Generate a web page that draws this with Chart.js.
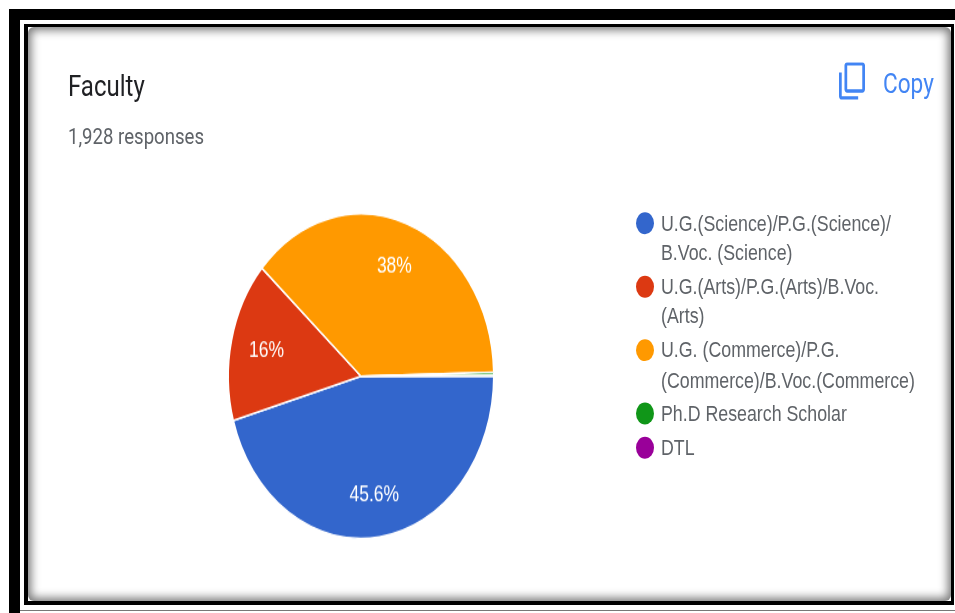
<!DOCTYPE html>
<html>
<head>
<meta charset="utf-8">
<title>Faculty</title>
<script src="https://cdn.jsdelivr.net/npm/chart.js@4"></script>
<style>
  html, body { margin: 0; padding: 0; background: #fff; overflow: hidden; }
  #page { position: relative; width: 955px; height: 613px; overflow: hidden; }
  /* picture frame */
  #outer { position: absolute; left: 9px; top: 9px; width: 960px; height: 620px; border-left: 11px solid #000; border-top: 11px solid #000; box-sizing: border-box; }
  #line { position: absolute; left: 20px; top: 610px; width: 935px; height: 1px; background: #777; }
  #inner { position: absolute; left: 24px; top: 24px; width: 930px; height: 581px; box-sizing: border-box; border: 4px solid #000; border-width: 3px 3px 4px 4px; }
  #shade { position: absolute; inset: 0; box-shadow: inset 0 0 10px 3px #777; border-radius: 6px; }
  /* everything inside is stretched in y, like the screenshot */
  #stage { position: absolute; left: 0; top: 0; width: 955px; height: 502.5px; transform-origin: 0 0; transform: scaleY(1.22); filter: blur(0.3px); }
  #chartBox { position: absolute; left: 0; top: 0; width: 955px; height: 502.5px; }
  .txt { position: absolute; white-space: nowrap; }
  #title { left: 68px; top: 56.5px; font: 400 24px Roboto, sans-serif; color: #202124; }
  #sub { left: 68px; top: 101px; font: 400 18.6px Roboto, sans-serif; color: #5f6368; }
  #copy { left: 883px; top: 55.2px; font: 400 22.6px Roboto, sans-serif; color: #4285f4; }
  #icon { position: absolute; left: 839px; top: 51.2px; width: 26px; height: 30.6px; }
  #legend { position: absolute; left: 636px; top: 170.6px; font: 400 17.8px "Liberation Sans", Arial, sans-serif; color: #5f6368; }
  .item { position: relative; padding-left: 25px; line-height: 24.6px; margin-bottom: 3px; white-space: nowrap; }
  .dot { position: absolute; left: 0; top: 3.3px; width: 18px; height: 18px; border-radius: 50%; }
</style>
</head>
<body>
<div id="page">
  <div id="outer"></div>
  <div id="line"></div>
  <div id="inner"><div id="shade"></div></div>
  <div id="stage">
    <div id="chartBox"><canvas id="pie"></canvas></div>
    <div class="txt" id="title">Faculty</div>
    <div class="txt" id="sub">1,928 responses</div>
    <svg id="icon" viewBox="2 1 19 22" preserveAspectRatio="none"><path fill="#4285f4" d="M16 1H4c-1.100 0-2 .9-2 2v14h2V3h12V1zm3 4H8c-1.100 0-2 .9-2 2v14c0 1.100.9 2 2 2h11c1.100 0 2-.9 2-2V7c0-1.100-.9-2-2-2zm0 16H8V7h11v14z" transform="matrix(1 0 0 -1 0 24)"/></svg>
    <div class="txt" id="copy">Copy</div>
    <div id="legend"></div>
  </div>
</div>
<script>
const categories = [
    ["U.G.(Science)/P.G.(Science)/", "B.Voc. (Science)"],
    ["U.G.(Arts)/P.G.(Arts)/B.Voc.", "(Arts)"],
    ["U.G. (Commerce)/P.G.", "(Commerce)/B.Voc.(Commerce)"],
    ["Ph.D Research Scholar"],
    ["DTL"]
];
const percents = [45.6, 16, 38, 0.3, 0.1];
const percentLabels = ["45.6%", "16%", "38%", "", ""];
const colors = ["#3366cc", "#dc3912", "#ff9900", "#109618", "#990099"];

// html legend, the google forms one wraps by hand
const legendEl = document.getElementById('legend');
categories.forEach((lines, i) => {
    const item = document.createElement('div');
    item.className = 'item';
    const dot = document.createElement('span');
    dot.className = 'dot';
    dot.style.background = colors[i];
    item.appendChild(dot);
    lines.forEach((line, n) => {
        if (n > 0) item.appendChild(document.createElement('br'));
        item.appendChild(document.createTextNode(line));
    });
    legendEl.appendChild(item);
});

// percent text inside the slices
const sliceLabels = {
    id: 'sliceLabels',
    afterDatasetsDraw(chart) {
        const ctx = chart.ctx;
        ctx.save();
        ctx.fillStyle = '#fff';
        ctx.font = '17.5px "Liberation Sans", Arial, sans-serif';
        ctx.textAlign = 'center';
        ctx.textBaseline = 'middle';
        chart.getDatasetMeta(0).data.forEach((arc, i) => {
            if (!percentLabels[i]) return;
            const mid = (arc.startAngle + arc.endAngle) / 2;
            const r = arc.outerRadius * 0.73;
            ctx.fillText(percentLabels[i], arc.x + Math.cos(mid) * r, arc.y + Math.sin(mid) * r + 1);
        });
        ctx.restore();
    }
};

new Chart(document.getElementById('pie'), {
    type: 'pie',
    data: {
        labels: categories.map(c => c.join(' ')),
        datasets: [{
            data: percents,
            backgroundColor: colors,
            borderColor: '#fff',
            borderWidth: 1.5
        }]
    },
    options: {
        responsive: true,
        maintainAspectRatio: false,
        animation: false,
        rotation: 90,
        layout: { padding: { left: 227.5, right: 460.5, top: 174, bottom: 61 } },
        plugins: { legend: { display: false }, tooltip: { enabled: false } }
    },
    plugins: [sliceLabels]
});
</script>
</body>
</html>
